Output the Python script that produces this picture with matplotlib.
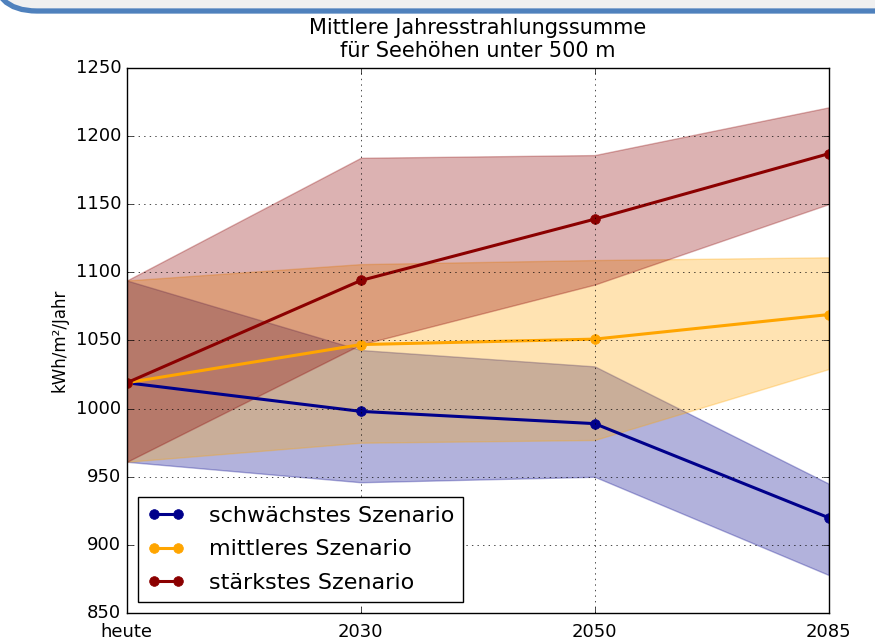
import matplotlib
matplotlib.use('Agg')
import matplotlib.pyplot as plt
from matplotlib.patches import FancyBboxPatch

plt.style.use('classic')

periods = ['heute', '2030', '2050', '2085']

weak = [1019, 998, 989, 920]
weak_low = [961, 946, 950, 878]
weak_high = [1094, 1043, 1031, 945]

mid = [1019, 1047, 1051, 1069]
mid_low = [961, 975, 977, 1029]
mid_high = [1094, 1106, 1109, 1111]

strong = [1019, 1094, 1139, 1187]
strong_low = [961, 1047, 1091, 1150]
strong_high = [1094, 1184, 1186, 1221]


def main():
    fig = plt.figure(figsize=(8.75, 6.4), dpi=100, facecolor='white')
    ax = fig.add_axes([0.145, 0.042, 0.802, 0.852])
    x = list(range(len(periods)))

    series = [
        (weak, weak_low, weak_high, 'darkblue', 'schwächstes Szenario'),
        (mid, mid_low, mid_high, 'orange', 'mittleres Szenario'),
        (strong, strong_low, strong_high, 'darkred', 'stärkstes Szenario'),
    ]
    for vals, low, high, col, name in series:
        ax.fill_between(x, low, high, facecolor=col, edgecolor=col, alpha=0.3)
    for vals, low, high, col, name in series:
        ax.plot(x, vals, '-o', color=col, mec=col, lw=2.2, ms=7, label=name)

    ax.set_xlim(0, 3)
    ax.set_ylim(850, 1250)
    ax.set_xticks(x)
    ax.set_xticklabels(periods)
    ax.tick_params(labelsize=13)
    ax.tick_params(axis='x', pad=7)
    ax.grid(True)
    ax.set_ylabel('kWh/m²/Jahr', fontsize=12)
    ax.set_title('Mittlere Jahresstrahlungssumme\nfür Seehöhen unter 500 m',
                 fontsize=15, pad=8, linespacing=1.15)
    ax.legend(loc='lower left', fontsize=16, handlelength=1.7,
              handletextpad=1.1, labelspacing=0.62)

    # page header strip above the chart
    over = fig.add_axes([0, 0, 1, 1], zorder=-1)
    over.set_xlim(0, 875)
    over.set_ylim(640, 0)
    over.axis('off')
    over.add_patch(FancyBboxPatch((-8, -80), 1100, 91,
                                  boxstyle='round,pad=0,rounding_size=45',
                                  facecolor='#f0f0f0', edgecolor='#4f81bd', lw=3.8))

    fig.savefig('out.png', facecolor='white')


if __name__ == '__main__':
    main()
